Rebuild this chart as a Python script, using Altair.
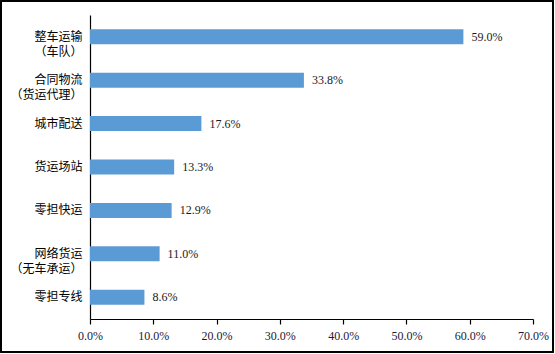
import altair as alt
import pandas as pd

categories = ["整车运输|（车队）", "合同物流|（货运代理）", "城市配送", "货运场站", "零担快运", "网络货运|（无车承运）", "零担专线"]
values = [59.0, 33.8, 17.6, 13.3, 12.9, 11.0, 8.6]
x_ticks = [0, 10, 20, 30, 40, 50, 60, 70]

df = pd.DataFrame({"cat": categories, "val": values})
df["lbl"] = [f"{v:.1f}%" for v in values]

W, H = 443, 304

y_enc = alt.Y("cat:N", sort=categories,
              scale=alt.Scale(paddingInner=0.655, paddingOuter=0.33),
              axis=alt.Axis(title=None, ticks=False, domainColor="black", domainWidth=1.2,
                            labelExpr="split(datum.label, '|')", labelFont="Noto Sans CJK SC",
                            labelFontSize=12, labelColor="black", labelPadding=8,
                            labelLineHeight=15, labelAlign="right"))

bars = alt.Chart(df).mark_bar(color="#5B9BD5").encode(
    x=alt.X("val:Q", scale=alt.Scale(domain=[0, 70], nice=False),
            axis=alt.Axis(title=None, values=x_ticks, grid=False, domainColor="black",
                          domainWidth=1.2, tickColor="black", tickSize=5, tickWidth=1.2,
                          labelFlush=False, labelOverlap=False,
                          labelExpr="format(datum.value, '.1f') + '%'",
                          labelFont="Liberation Serif", labelFontSize=12,
                          labelColor="#1a1a3a", labelPadding=6)),
    y=y_enc,
)

text = alt.Chart(df).mark_text(align="left", dx=8, font="Liberation Serif", fontSize=12,
                               color="#1a1a1a").encode(
    x="val:Q", y=alt.Y("cat:N", sort=categories), text="lbl:N")

frame = alt.Chart(df).mark_rect(fill=None, stroke="black", strokeWidth=1.2).encode(
    x=alt.value(-89), x2=alt.value(463), y=alt.value(-14), y2=alt.value(337))

chart = alt.layer(bars, text, frame).properties(
    width=W, height=H,
    autosize=alt.AutoSizeParams(type="none"),
    padding={"left": 90, "top": 15, "right": 22, "bottom": 35},
    background="white",
).configure_view(stroke=None)

chart.save("out.html", embed_options={"renderer": "svg", "actions": False})
